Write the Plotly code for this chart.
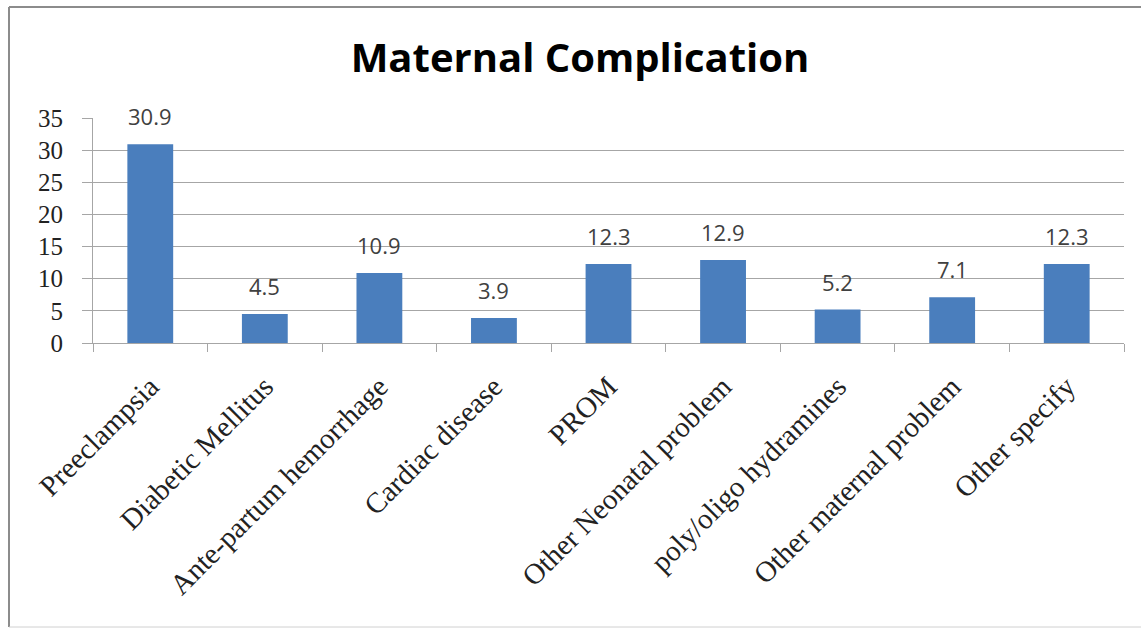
import plotly.graph_objects as go

categories = [
    "Preeclampsia",
    "Diabetic Mellitus",
    "Ante-partum hemorrhage",
    "Cardiac disease",
    "PROM",
    "Other Neonatal problem",
    "poly/oligo hydramines",
    "Other maternal problem",
    "Other specify",
]
values = [30.9, 4.5, 10.9, 3.9, 12.3, 12.9, 5.2, 7.1, 12.3]
y_ticks = [0, 5, 10, 15, 20, 25, 30, 35]

W, H = 1141, 628
L, R, T, B = 93, 17, 118, 285
pw, ph = W - L - R, H - T - B

def px_x(x):
    return (x - L) / pw

def px_y(y):
    return (H - B - y) / ph

bar_color = "#4a7ebd"
grid = "#a6a6a6"

fig = go.Figure()
fig.add_trace(go.Bar(
    x=categories,
    y=values,
    marker=dict(color=bar_color, line=dict(width=0)),
    hoverinfo="x+y",
))

for c, v in zip(categories, values):
    fig.add_annotation(
        x=c, y=v, text=f"{v}", showarrow=False,
        yanchor="bottom", yshift=11,
        font=dict(family="Open Sans, Noto Sans, sans-serif", size=22, color="#404040"),
    )

# outer chart frame
frame = dict(color="#8c8c8c", width=2)
fig.add_shape(type="line", xref="paper", yref="paper",
              x0=px_x(9), x1=px_x(9), y0=px_y(627), y1=px_y(7), line=frame)
fig.add_shape(type="line", xref="paper", yref="paper",
              x0=px_x(9), x1=px_x(1141), y0=px_y(7), y1=px_y(7), line=frame)
fig.add_shape(type="line", xref="paper", yref="paper",
              x0=px_x(9), x1=px_x(1141), y0=px_y(627), y1=px_y(627),
              line=dict(color="#d0d0d0", width=1))

fig.update_layout(
    width=W, height=H,
    margin=dict(l=L, r=R, t=T, b=B),
    paper_bgcolor="white",
    plot_bgcolor="white",
    bargap=0.6,
    showlegend=False,
    title=dict(
        text="<b>Maternal Complication</b>",
        x=580 / W, xanchor="center",
        y=1 - 58 / H, yanchor="middle", yref="container",
        font=dict(family="Open Sans, Noto Sans, sans-serif", size=40, color="#000000"),
    ),
    xaxis=dict(
        tickangle=-45,
        tickson="boundaries",
        ticks="outside", ticklen=8, tickcolor=grid,
        showline=True, linecolor=grid, linewidth=1,
        showgrid=False,
        ticklabelstandoff=14,
        tickfont=dict(family="Liberation Serif, Times New Roman, serif", size=29, color="#222222"),
    ),
    yaxis=dict(
        range=[0, 35],
        tickvals=y_ticks,
        ticks="outside", ticklen=10, tickcolor=grid,
        showline=True, linecolor=grid, linewidth=1,
        showgrid=True, gridcolor=grid, gridwidth=1,
        zeroline=False,
        ticklabelstandoff=14,
        tickfont=dict(family="Liberation Serif, Times New Roman, serif", size=25, color="#222222"),
    ),
)

fig.write_html("out.html")
